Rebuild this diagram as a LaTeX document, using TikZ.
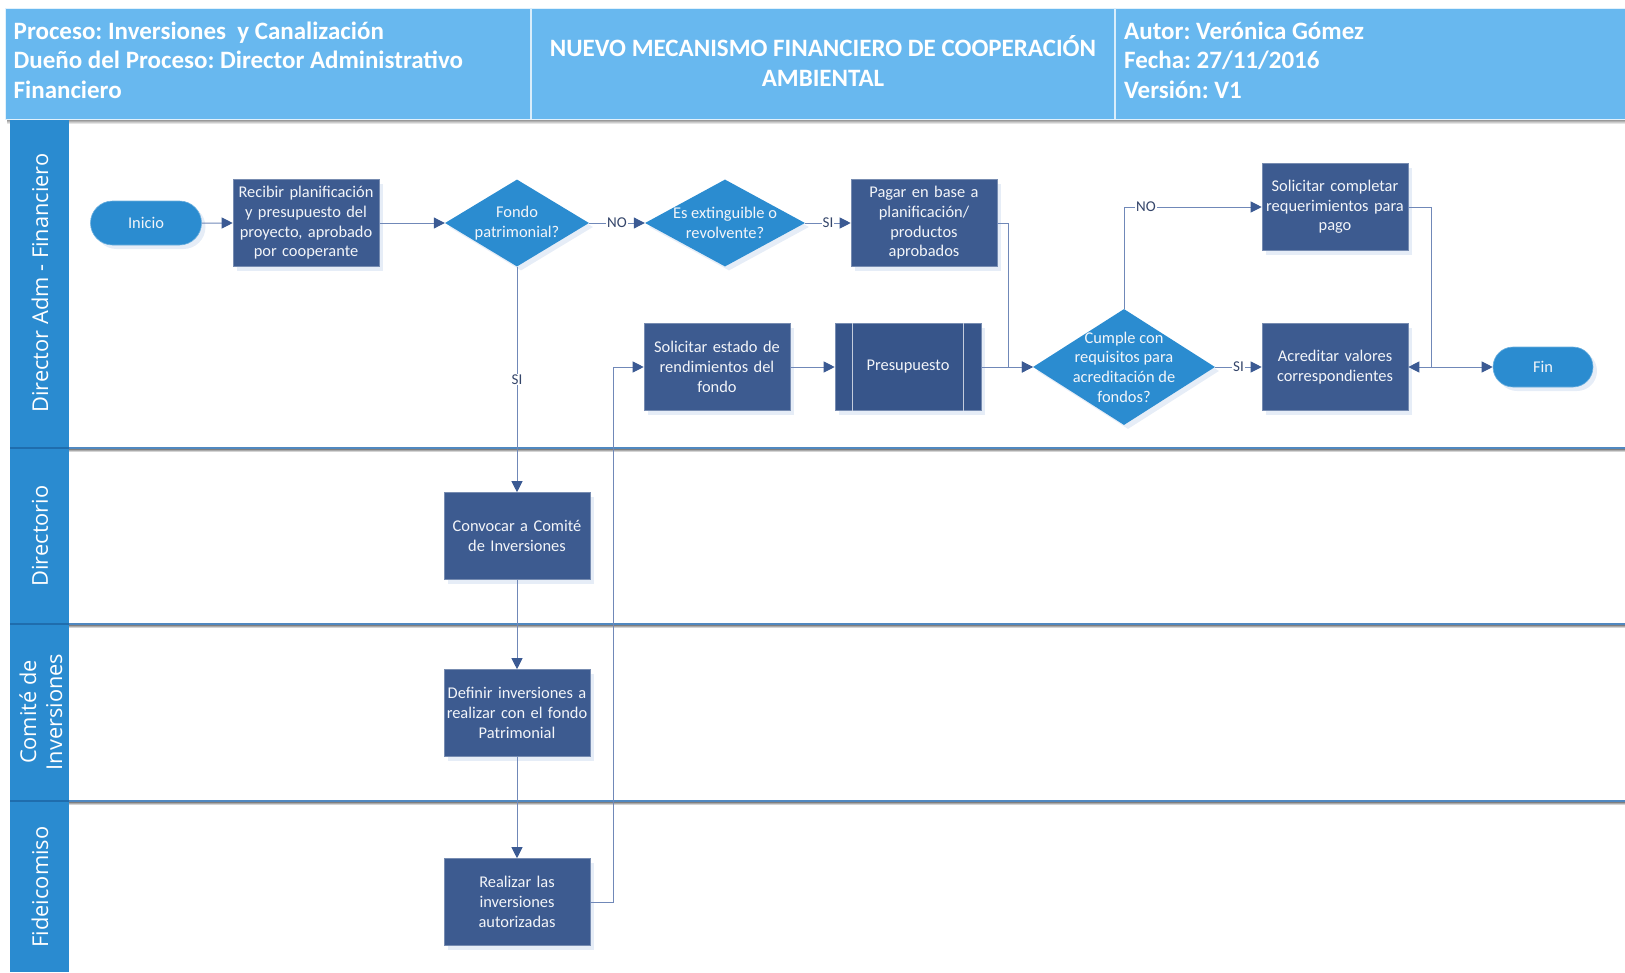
\documentclass[tikz,border=0pt]{standalone}
\usepackage{fontspec}
\setmainfont{Carlito}
\newfontfamily\lanefont{Open Sans}
\frenchspacing
\usetikzlibrary{shapes.geometric,shapes.misc,arrows.meta,shadows,calc}
\definecolor{hdr}{HTML}{68B8EF}
\definecolor{lanecol}{HTML}{2A8BD0}
\definecolor{lanesep}{HTML}{1F6DAD}
\definecolor{proc}{HTML}{3D5B90}
\definecolor{presfill}{HTML}{37558A}
\definecolor{dec}{HTML}{2B8CD0}
\definecolor{conn}{HTML}{7088B8}
\definecolor{tip}{HTML}{3B5A93}
\definecolor{sep}{HTML}{5088C0}
\definecolor{shade}{HTML}{E6EDF7}
\definecolor{boxtext}{HTML}{F3F5F9}
\definecolor{lbl}{HTML}{34456A}

\tikzset{
  softshadow/.style={drop shadow={shadow xshift=4pt, shadow yshift=-4pt, fill=shade, opacity=1}},
  procbox/.style={rectangle, fill=proc, draw=proc!70!white, line width=0.6pt,
    minimum width=146pt, minimum height=87pt, text width=144pt, align=center,
    text=boxtext, inner sep=0pt, font=\fontsize{16.4}{19.7}\selectfont, softshadow},
  decshape/.style={diamond, fill=dec, inner sep=0pt, softshadow},
  dectext/.style={text=boxtext, align=center, inner sep=0pt, font=\fontsize{16.4}{19.7}\selectfont},
  terminal/.style={rounded rectangle, fill=dec, draw=dec!70!white, line width=0.6pt,
    inner sep=0pt, text=boxtext, font=\fontsize{16.4}{19.7}\selectfont, softshadow},
  flow/.style={draw=conn, line width=1pt, -{Triangle[length=11pt,width=11pt,color=tip]}},
  edgelbl/.style={fill=white, inner sep=1pt, text=lbl, font=\fontsize{15}{17}\selectfont},
  hdrtext/.style={text=white, inner sep=0pt, font=\fontsize{25}{29.5}\selectfont\bfseries},
  lanetext/.style={text=white, rotate=90, align=center, inner sep=0pt,
    font=\lanefont\fontsize{21.8}{26}\selectfont},
}

\begin{document}
\begin{tikzpicture}[x=1pt,y=-1pt]
\useasboundingbox (0,0) rectangle (1625,972);

% ---- header band ----
\fill[shade] (7,119) rectangle (1625,124);
\fill[hdr] (5,8) rectangle (1625,119);
\draw[white!80!hdr, line width=0.8pt] (5,8) rectangle (1625,119);
\draw[white!75!hdr, line width=1.4pt] (531,8) -- (531,119);
\draw[white!75!hdr, line width=1.4pt] (1115,8) -- (1115,119);

\node[hdrtext, anchor=base west] (hA) at (13.5,39) {Proceso: Inversiones \ y Canalización};
\node[hdrtext, anchor=base west] (hB) at (13.5,68) {Dueño del Proceso: Director Administrativo};
\node[hdrtext, anchor=base west] (hC) at (13.5,98) {Financiero};
\node[hdrtext, anchor=base] (tA) at (823,56) {NUEVO MECANISMO FINANCIERO DE COOPERACIÓN};
\node[hdrtext, anchor=base] (tB) at (823,86) {AMBIENTAL};
\node[hdrtext, anchor=base west] (aA) at (1124,39) {Autor: Verónica Gómez};
\node[hdrtext, anchor=base west] (aB) at (1124,68) {Fecha: 27/11/2016};
\node[hdrtext, anchor=base west] (aC) at (1124,98) {Versión: V1};

% ---- swimlanes ----
\fill[lanecol] (10,120) rectangle (69,972);
\foreach \yy in {448,624,801}{
  \fill[shade] (69,\yy+1) rectangle (1625,\yy+4);
  \draw[sep, line width=1.2pt] (69,\yy) -- (1625,\yy);
  \draw[lanesep, line width=1.4pt] (10,\yy) -- (69,\yy);
}
\node[lanetext] (l1) at (40,283) {Director Adm - Financiero};
\node[lanetext] (l2) at (40,536) {Directorio};
\node[lanetext] (l3) at (41,712) {Comité de\\Inversiones};
\node[lanetext] (l4) at (40,887) {Fideicomiso};

% ---- steps ----
\node[terminal, minimum width=111pt, minimum height=44pt] (inicio) at (146,223) {Inicio};
\node[procbox] (recibir) at (306,223) {Recibir planificación\\y presupuesto del\\proyecto, aprobado\\por cooperante};
\node[decshape, minimum width=144pt, minimum height=87pt] (fondo) at (517,223) {};
\node[dectext] (fondoT) at (fondo) {Fondo\\patrimonial?};
\node[decshape, minimum width=160pt, minimum height=87pt] (esext) at (725,223) {};
\node[dectext] (esextT) at (esext) {Es extinguible o\\revolvente?};
\node[procbox] (pagar) at (924,223) {Pagar en base a\\planificación/\\productos\\aprobados};
\node[procbox] (solcomp) at (1335,207) {Solicitar completar\\requerimientos para\\pago};
\node[decshape, minimum width=182pt, minimum height=116pt] (cumple) at (1124,367) {};
\node[dectext] (cumpleT) at (1124,367) {Cumple con\\requisitos para\\acreditación de\\fondos?};
\node[procbox] (acred) at (1335,367) {Acreditar valores\\correspondientes};
\node[terminal, minimum width=100pt, minimum height=40pt] (fin) at (1543,367) {Fin};
\node[procbox] (solest) at (717,367) {Solicitar estado de\\rendimientos del\\fondo};
\node[procbox, fill=presfill] (presu) at (908,367) {Presupuesto};
\draw[white!70!presfill, line width=0.8pt] ([xshift=18pt]presu.north west) -- ([xshift=18pt]presu.south west);
\draw[white!70!presfill, line width=0.8pt] ([xshift=-18pt]presu.north east) -- ([xshift=-18pt]presu.south east);
\node[procbox] (convocar) at (517,536) {Convocar a Comité\\de Inversiones};
\node[procbox] (definir) at (517,713) {Definir inversiones a\\realizar con el fondo\\Patrimonial};
\node[procbox] (realizar) at (517,902) {Realizar las\\inversiones\\autorizadas};

% ---- connectors ----
\coordinate (pagarTurn) at (1008,223);
\coordinate (realTurn) at (613,902);
\coordinate (merge) at (1431,367);

\draw[flow] (inicio) -- (recibir);
\draw[flow] (recibir) -- (fondo.west);
\draw[flow] (fondo.east) -- node[edgelbl] (noA) {NO} (esext.west);
\draw[flow] (esext.east) -- node[edgelbl] (siA) {SI} (pagar);
\draw[flow] (fondo.south) -- node[edgelbl, pos=0.5] (siB) {SI} (convocar);
\draw[flow] (convocar) -- (definir);
\draw[flow] (definir) -- (realizar);
\draw[flow] (realizar.east) -- (realTurn) |- (solest.west);
\draw[flow] (solest) -- (presu);
\draw[flow] (presu) -- (cumple.west);
\draw[flow] (pagar.east) -- (pagarTurn) |- (cumple.west);
\draw[flow] (cumple.north) |- node[edgelbl, pos=0.58] (noB) {NO} (solcomp.west);
\draw[flow] (cumple.east) -- node[edgelbl] (siC) {SI} (acred.west);
\draw[flow] (solcomp.east) -| (merge) -- (acred.east);
\draw[flow] (merge) -- (fin.west);
\end{tikzpicture}
\end{document}
